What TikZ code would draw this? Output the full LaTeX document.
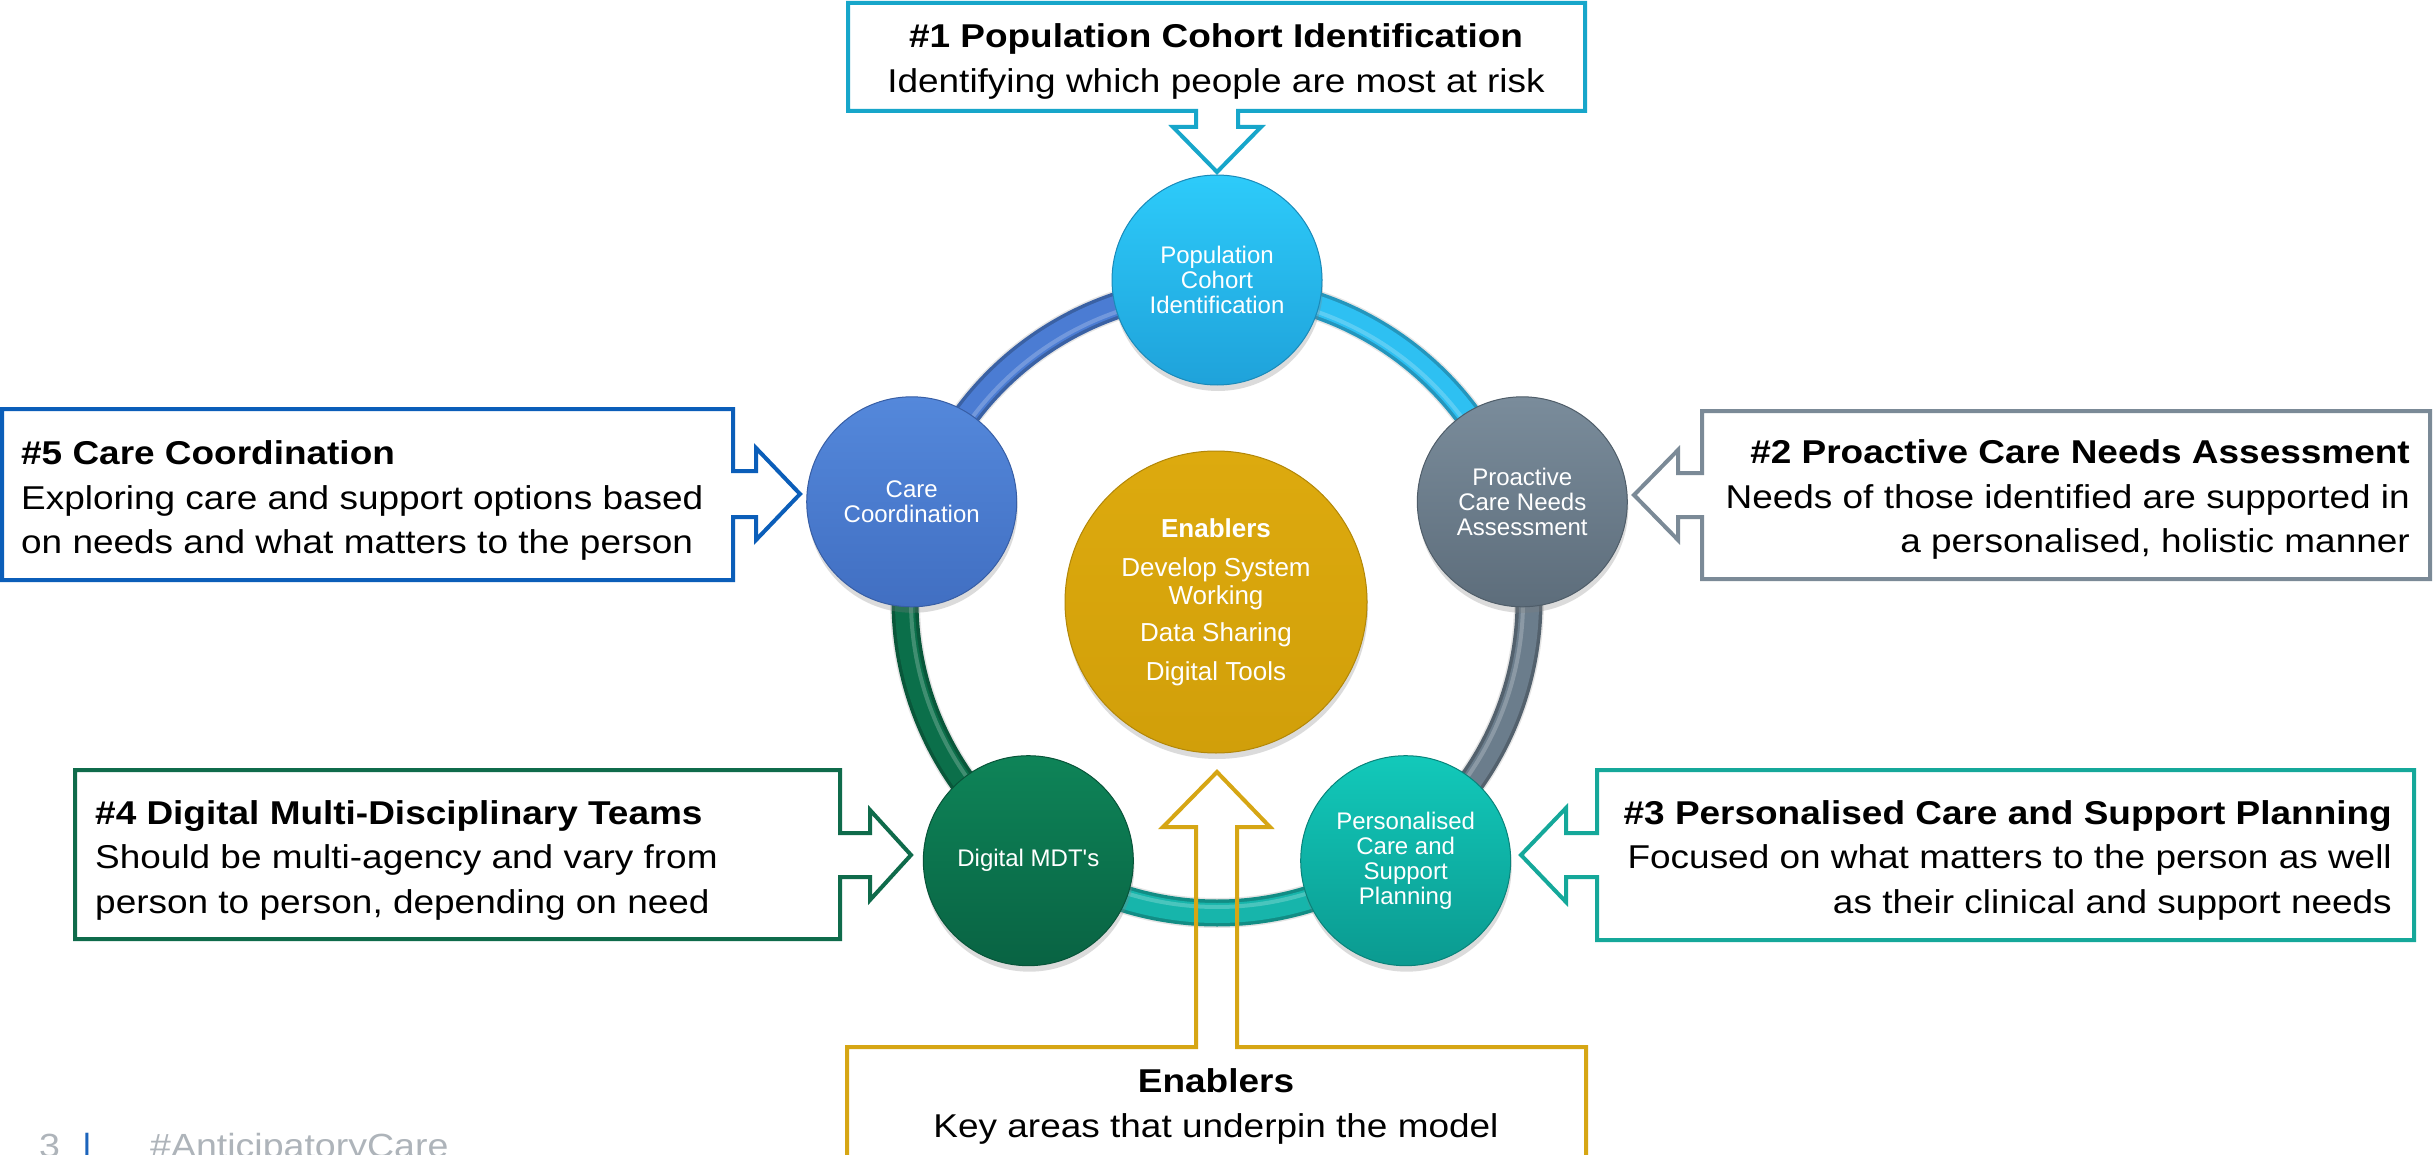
\documentclass[tikz,border=0pt]{standalone}
\usepackage{fontspec}
\setmainfont{Liberation Sans}
\newfontfamily\boxfont[FakeStretch=1.12]{Liberation Sans}
\newfontfamily\bubfont{Liberation Sans}
\usetikzlibrary{shadows,calc}

\definecolor{bxone}{HTML}{17A6CA}
\definecolor{bxtwo}{HTML}{7B8A97}
\definecolor{bxthree}{HTML}{15A89A}
\definecolor{bxfour}{HTML}{0F6B4B}
\definecolor{bxfive}{HTML}{0B5EB9}
\definecolor{bxen}{HTML}{D6A614}

\definecolor{popT}{HTML}{2DCBFA}\definecolor{popB}{HTML}{1FA2DA}
\definecolor{carT}{HTML}{5488DB}\definecolor{carB}{HTML}{416FC2}
\definecolor{proT}{HTML}{7A8C9B}\definecolor{proB}{HTML}{5D6D7B}
\definecolor{perT}{HTML}{12C9BA}\definecolor{perB}{HTML}{0B9A90}
\definecolor{mdtT}{HTML}{0E8458}\definecolor{mdtB}{HTML}{096343}
\definecolor{enT}{HTML}{DDAA0E}\definecolor{enB}{HTML}{D19F0A}

\definecolor{rgBlue}{HTML}{4B7CD3}
\definecolor{rgCyan}{HTML}{2EC0F2}
\definecolor{rgGray}{HTML}{6B7D8C}
\definecolor{rgTeal}{HTML}{17B5AB}
\definecolor{rgGreen}{HTML}{0B6F4A}

\definecolor{footgray}{HTML}{AEB4BA}
\definecolor{footblue}{HTML}{1C64BC}

\newcommand\ringseg[3]{%
  \draw[line width=30pt, black, opacity=.10, yshift=-5pt] ($(ringc)+(#1:312)$) arc[start angle=#1, end angle=#2, radius=312];
  \draw[line width=27pt, #3!78!black] ($(ringc)+(#1:312)$) arc[start angle=#1, end angle=#2, radius=312];
  \draw[line width=20pt, #3] ($(ringc)+(#1:312)$) arc[start angle=#1, end angle=#2, radius=312];
  \draw[line width=4pt, white, opacity=.22] ($(ringc)+(#1:306)$) arc[start angle=#1, end angle=#2, radius=306];
}

\begin{document}
\begin{tikzpicture}[x=1pt,y=-1pt,
  boxline/.style={line width=4pt, line join=miter, miter limit=10},
  ttl/.style={inner sep=0pt, font=\boxfont\fontsize{33}{45}\selectfont\bfseries},
  bdy/.style={inner sep=0pt, font=\boxfont\fontsize{33}{45}\selectfont},
  bub/.style={circle, minimum size=210pt, inner sep=0pt, text=white, align=center,
    font=\bubfont\fontsize{24}{25}\selectfont,
    drop shadow={shadow xshift=1pt, shadow yshift=-6pt, opacity=.28}},
  foot/.style={inner sep=0pt, font=\boxfont\fontsize{33.5}{40}\selectfont}
]
\useasboundingbox (0,0) rectangle (2433,1155);
\clip (0,0) rectangle (2433,1155);
\fill[white] (0,0) rectangle (2433,1155);

\coordinate (ringc) at (1217,601);

% ring segments
\ringseg{198}{270}{rgBlue}
\ringseg{270}{342}{rgCyan}
\ringseg{-18}{54}{rgGray}
\ringseg{54}{126}{rgTeal}
\ringseg{126}{198}{rgGreen}

% ring nodes
\node[bub, shade, top color=popT, bottom color=popB, draw=popB!85!black, line width=1pt] (pop) at ($(ringc)+(-90:321)$) {Population\\Cohort\\Identification};
\node[bub, shade, top color=proT, bottom color=proB, draw=proB!85!black, line width=1pt] (proa) at ($(ringc)+(-18:321)$) {Proactive\\Care Needs\\Assessment};
\node[bub, shade, top color=perT, bottom color=perB, draw=perB!85!black, line width=1pt] (pers) at ($(ringc)+(54:321)$) {Personalised\\Care and\\Support\\Planning};
\node[bub, shade, top color=mdtT, bottom color=mdtB, draw=mdtB!85!black, line width=1pt] (mdt) at ($(ringc)+(126:321)$) {Digital MDT's};
\node[bub, shade, top color=carT, bottom color=carB, draw=carB!85!black, line width=1pt] (care) at ($(ringc)+(198:321)$) {Care\\Coordination};

% central enablers
\node[bub, minimum size=302pt, shade, top color=enT, bottom color=enB, draw=enB!85!black, line width=1pt,
  font=\bubfont\fontsize{26}{28}\selectfont] (enab) at (1216,602)
  {\textbf{Enablers}\\[11pt]Develop System\\Working\\[9pt]Data Sharing\\[11pt]Digital Tools};

% callout #1 (top)
\draw[boxline, bxone] (848,3) -- (1585,3) -- (1585,111) -- (1238,111) -- (1238,127) -- (1261,127)
  -- (1217,172) -- (1173,127) -- (1196,127) -- (1196,111) -- (848,111) -- cycle;
\node[ttl, anchor=base] (t1a) at (1216,48) {\#1 Population Cohort Identification};
\node[bdy, anchor=base] (t1b) at (1216,93) {Identifying which people are most at risk};

% callout #2 (right upper)
\draw[boxline, bxtwo] (1702,411) -- (2430,411) -- (2430,579) -- (1702,579) -- (1702,517) -- (1678,517)
  -- (1678,540) -- (1634,495) -- (1678,450) -- (1678,473) -- (1702,473) -- cycle;
\node[ttl, anchor=base east] (t2a) at (2410,463) {\#2 Proactive Care Needs Assessment};
\node[bdy, anchor=base east] (t2b) at (2410,508) {Needs of those identified are supported in};
\node[bdy, anchor=base east] (t2c) at (2410,552) {a personalised, holistic manner};

% callout #3 (right lower)
\draw[boxline, bxthree] (1597,770) -- (2414,770) -- (2414,940) -- (1597,940) -- (1597,877) -- (1566,877)
  -- (1566,902) -- (1521,855) -- (1566,808) -- (1566,833) -- (1597,833) -- cycle;
\node[ttl, anchor=base east] (t3a) at (2392,824) {\#3 Personalised Care and Support Planning};
\node[bdy, anchor=base east] (t3b) at (2392,868) {Focused on what matters to the person as well};
\node[bdy, anchor=base east] (t3c) at (2392,913) {as their clinical and support needs};

% callout #4 (left lower)
\draw[boxline, bxfour] (75,770) -- (840,770) -- (840,833) -- (870,833) -- (870,810) -- (911,855)
  -- (870,900) -- (870,877) -- (840,877) -- (840,939) -- (75,939) -- cycle;
\node[ttl, anchor=base west] (t4a) at (95,824) {\#4 Digital Multi-Disciplinary Teams};
\node[bdy, anchor=base west] (t4b) at (95,868) {Should be multi-agency and vary from};
\node[bdy, anchor=base west] (t4c) at (95,913) {person to person, depending on need};

% callout #5 (left upper)
\draw[boxline, bxfive] (2,409) -- (733,409) -- (733,471) -- (756,471) -- (756,448) -- (800,494)
  -- (756,540) -- (756,517) -- (733,517) -- (733,580) -- (2,580) -- cycle;
\node[ttl, anchor=base west] (t5a) at (21,464) {\#5 Care Coordination};
\node[bdy, anchor=base west] (t5b) at (21,509) {Exploring care and support options based};
\node[bdy, anchor=base west] (t5c) at (21,553) {on needs and what matters to the person};

% enablers callout (bottom)
\draw[boxline, bxen] (847,1175) -- (847,1047) -- (1196,1047) -- (1196,827) -- (1163,827) -- (1217,772)
  -- (1270,827) -- (1237,827) -- (1237,1047) -- (1586,1047) -- (1586,1175);
\node[ttl, anchor=base] (tea) at (1216,1092) {Enablers};
\node[bdy, anchor=base] (teb) at (1216,1137) {Key areas that underpin the model};

% footer
\node[foot, text=footgray, anchor=base west] (pg) at (39,1157) {3};
\node[foot, text=footblue, anchor=base] (bar) at (87,1157) {|};
\node[foot, text=footgray, anchor=base west] (tag) at (150,1157) {\#AnticipatoryCare};
\end{tikzpicture}
\end{document}
